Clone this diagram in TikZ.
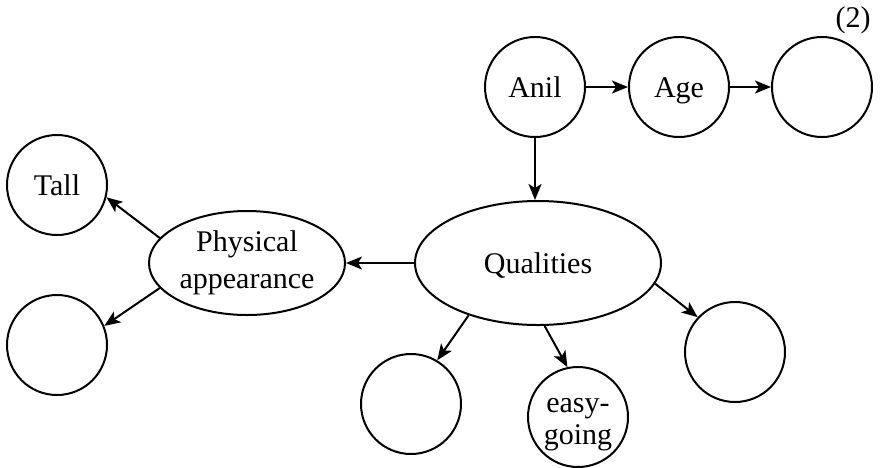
\documentclass[tikz,border=0pt]{standalone}
\usepackage{fontspec}
\setmainfont{Liberation Serif}
\usetikzlibrary{shapes.geometric,arrows.meta}
\begin{document}
\begin{tikzpicture}[x=1pt,y=-1pt,
  every node/.style={font=\fontsize{30}{37}\selectfont},
  circ/.style={draw,circle,line width=2pt,minimum size=100pt,inner sep=0pt,align=center},
  oneline/.style={text height=27pt,text depth=7pt},
  ell/.style={draw,ellipse,line width=2pt,inner sep=0pt,align=center},
  arr/.style={line width=2pt,-{Stealth[length=16pt,width=13pt,inset=4pt]}}]
\useasboundingbox (0,0) rectangle (881,467);
\node[circ,oneline] (anil) at (535,87) {Anil};
\node[circ,oneline] (age) at (679,87) {Age};
\node[circ] (c3) at (822,87) {};
\node (two) at (853,20) {(2)};
\node[ell,oneline,minimum width=246pt,minimum height=124pt] (qual) at (538,263) {Qualities};
\node[ell,minimum width=196pt,minimum height=104pt] (phys) at (247,263) {Physical\\appearance};
\node[circ,oneline] (tall) at (57,185) {Tall};
\node[circ] (bl) at (57,345) {};
\node[circ] (bm) at (411,404) {};
\node[circ] (easy) at (578,417) {};
\node[inner sep=0pt,align=center,font=\fontsize{30}{32}\selectfont] (easytext) at (578,425) {easy-\\going};
\node[circ] (br) at (735,352) {};
\draw[arr] (anil) -- (age);
\draw[arr] (age) -- (c3);
\draw[arr] (anil.south) -- (anil.south |- qual.north);
\draw[arr] (qual.west) -- (phys.east);
\draw[arr] (phys.164) -- (tall.-14);
\draw[arr] (phys.196) -- (bl.22);
\draw[arr] (qual.217) -- (bm.59);
\draw[arr] (qual.276) -- (easy.102);
\draw[arr] (qual.-10) -- (br.137);
\end{tikzpicture}
\end{document}
